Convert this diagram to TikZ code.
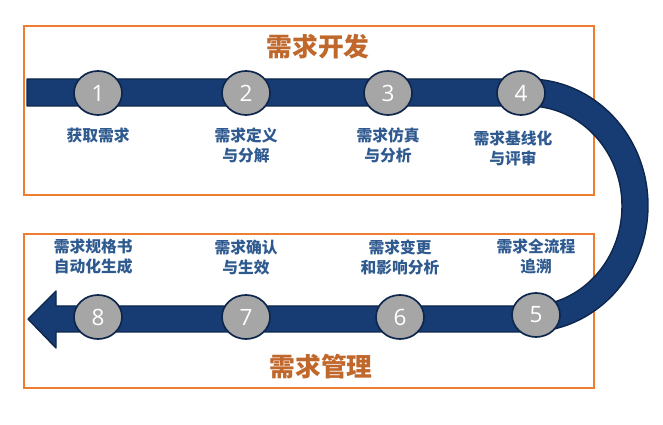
\documentclass[tikz,border=0pt]{standalone}
\usepackage{fontspec}
\setsansfont{Open Sans}
\newfontfamily\cjk{Noto Sans CJK SC}
\usetikzlibrary{positioning,shapes.geometric}

\definecolor{bandblue}{HTML}{173C73}
\definecolor{banddark}{HTML}{0E264C}
\definecolor{stopgray}{HTML}{A6A6A6}
\definecolor{labelblue}{HTML}{2F5A8F}
\definecolor{titlebrown}{HTML}{C0672B}
\definecolor{frameorange}{HTML}{ED7D31}

\tikzset{
	stopnode/.style={
		draw=banddark,
		line width=1.2pt,
		fill=stopgray,
		ellipse,
		minimum width=1.2cm,
		minimum height=1.1cm,
		inner sep=0pt,
		text=white,
		font=\sffamily\fontsize{16}{16}\selectfont
	},
	labelnode/.style={
		inner sep=0pt,
		align=center,
		text=labelblue,
		font=\cjk\bfseries\fontsize{11.2}{14.2}\selectfont
	},
	titlenode/.style={
		inner sep=0pt,
		text=titlebrown,
		font=\cjk\bfseries\fontsize{18.3}{20}\selectfont
	},
	framebox/.style={
		draw=frameorange,
		line width=1.5pt
	}
}

\begin{document}
\begin{tikzpicture}[x=0.025cm,y=0.025cm]
	\useasboundingbox (0,0) rectangle (663,425);
	
	%--------------------------------------------------
	% Frames
	%--------------------------------------------------
	
	\draw[framebox] (24,230) rectangle (594,399);
	\draw[framebox] (24,37) rectangle (594,191);
	
	%--------------------------------------------------
	% Band with arrow
	%--------------------------------------------------
	
	\draw[fill=bandblue,draw=banddark,line width=1pt,line join=round]
	(27,346) -- (528,346)
	arc[start angle=90,end angle=-90,x radius=120,y radius=126.5]
	-- (56,93) -- (56,77) -- (28,106) -- (56,134) -- (56,119) -- (528,119)
	arc[start angle=-90,end angle=90,x radius=94,y radius=100]
	-- (27,319) -- cycle;
	
	%--------------------------------------------------
	% Stops
	%--------------------------------------------------
	
	\node[stopnode] (s1) at (98,332) {1};
	\node[stopnode] (s2) at (246,332) {2};
	\node[stopnode] (s3) at (388,332) {3};
	\node[stopnode] (s4) at (521,332) {4};
	\node[stopnode] (s5) at (536,110) {5};
	\node[stopnode] (s6) at (400,108) {6};
	\node[stopnode] (s7) at (246,108) {7};
	\node[stopnode] (s8) at (98,108) {8};
	
	%--------------------------------------------------
	% Labels
	%--------------------------------------------------
	
	\node[labelnode] (l1) [below=0.3cm of s1] {获取需求};
	\node[labelnode] (l2) [below=0.3cm of s2] {需求定义\\与分解};
	\node[labelnode] (l3) [below=0.3cm of s3] {需求仿真\\与分析};
	\node[labelnode] (l4) [below=0.38cm of s4,xshift=-0.2cm] {需求基线化\\与评审};
	\node[labelnode] (l5) [above=0.45cm of s5] {需求全流程\\追溯};
	\node[labelnode] (l6) [above=0.48cm of s6] {需求变更\\和影响分析};
	\node[labelnode] (l7) [above=0.48cm of s7] {需求确认\\与生效};
	\node[labelnode] (l8) [above=0.48cm of s8,xshift=-0.12cm] {需求规格书\\自动化生成};
	
	%--------------------------------------------------
	% Titles
	%--------------------------------------------------
	
	\node[titlenode] (dev) at (318,378) {需求开发};
	\node[titlenode] (mgmt) at (321,58) {需求管理};
	
\end{tikzpicture}
\end{document}
